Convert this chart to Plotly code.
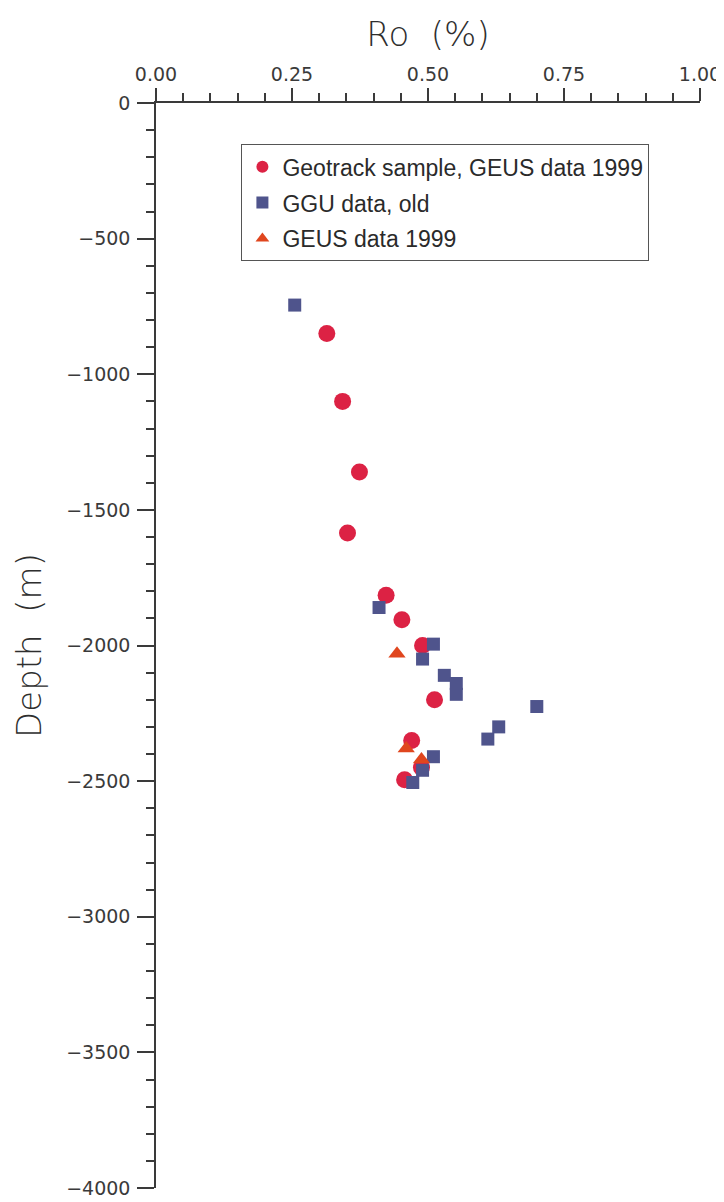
import plotly.graph_objects as go

# Geotrack sample, GEUS data 1999 (circles)
geotrack_ro = [0.314, 0.343, 0.374, 0.352, 0.423, 0.452, 0.490, 0.512, 0.470, 0.488, 0.457]
geotrack_depth = [-850, -1100, -1360, -1585, -1815, -1905, -2000, -2200, -2350, -2450, -2495]

# GGU data, old (squares)
ggu_ro = [0.255, 0.410, 0.510, 0.490, 0.530, 0.552, 0.552, 0.700, 0.630, 0.610, 0.510, 0.490, 0.472]
ggu_depth = [-745, -1860, -1995, -2050, -2110, -2140, -2180, -2225, -2300, -2345, -2410, -2460, -2505]

# GEUS data 1999 (triangles)
geus_ro = [0.443, 0.460, 0.488]
geus_depth = [-2030, -2380, -2420]

x_ticks = [0.0, 0.25, 0.5, 0.75, 1.0]
y_ticks = [0, -500, -1000, -1500, -2000, -2500, -3000, -3500, -4000]

AX = "#3a3a3a"
TICKFONT = dict(family="DejaVu Sans, sans-serif", size=19, color="#3a3a3a")
TITLEFONT = dict(family="DejaVu Sans, sans-serif", size=34, color="#2e2e2e", weight=200)

fig = go.Figure()
fig.add_trace(go.Scatter(
    x=geotrack_ro, y=geotrack_depth, mode="markers",
    name="Geotrack sample, GEUS data 1999", legendgroup="a",
    marker=dict(symbol="circle", size=17, color="#DC2244"),
))
fig.add_trace(go.Scatter(
    x=ggu_ro, y=ggu_depth, mode="markers",
    name="GGU data, old", legendgroup="b",
    marker=dict(symbol="square", size=13, color="#4F548C"),
))
fig.add_trace(go.Scatter(
    x=geus_ro, y=geus_depth, mode="markers",
    name="GEUS data 1999", legendgroup="c",
    marker=dict(symbol="triangle-up", size=15, color="#E0461E"),
))

fig.update_layout(
    width=724, height=1202,
    margin=dict(l=148, r=25, t=95, b=11),
    paper_bgcolor="white", plot_bgcolor="white",
    showlegend=True,
    legend=dict(
        x=0.157, y=0.962, xanchor="left", yanchor="top",
        bordercolor="#555555", borderwidth=1, bgcolor="white",
        font=dict(family="Liberation Sans, Arial, sans-serif", size=23, color="#2a2a2a"),
        itemsizing="constant", tracegroupgap=3, traceorder="grouped",
    ),
)

fig.update_xaxes(
    range=[0, 1], side="top", tickvals=x_ticks, tickformat=".2f",
    showline=True, linecolor=AX, linewidth=1.5, mirror=False,
    ticks="outside", ticklen=13, tickwidth=1.5, tickcolor=AX,
    minor=dict(dtick=0.05, ticks="outside", ticklen=8, tickwidth=1.5, tickcolor=AX),
    showgrid=False, zeroline=False,
    tickfont=TICKFONT,
    title=dict(text="Ro  (%)", font=TITLEFONT, standoff=6),
)
fig.update_yaxes(
    range=[-4000, 0], tickvals=y_ticks,
    showline=True, linecolor=AX, linewidth=1.5, mirror=False,
    ticks="outside", ticklen=17, tickwidth=1.5, tickcolor=AX,
    minor=dict(dtick=100, ticks="outside", ticklen=8, tickwidth=1.5, tickcolor=AX),
    showgrid=False, zeroline=False,
    tickfont=TICKFONT, ticklabelstandoff=3,
    title=dict(text="Depth  (m)", font=TITLEFONT, standoff=14),
)

fig.write_html("out.html")
